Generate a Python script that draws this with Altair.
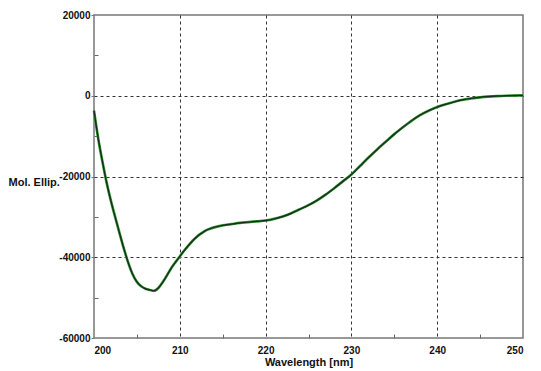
import altair as alt
import pandas as pd

wavelength = [200.0, 200.5, 201.0, 201.5, 202.0, 202.5, 203.0, 203.5, 204.0, 204.5,
              205.0, 205.5, 206.0, 206.5, 207.0, 207.5, 208.0, 208.5, 209.0, 209.5,
              210.0, 210.5, 211.0, 211.5, 212.0, 212.5, 213.0, 213.5, 214.0, 215.0,
              216.0, 217.0, 218.0, 219.0, 220.0, 221.0, 222.0, 223.0, 224.0, 225.0,
              226.0, 227.0, 228.0, 229.0, 230.0, 231.0, 232.0, 233.0, 234.0, 235.0,
              236.0, 237.0, 238.0, 239.0, 240.0, 241.0, 242.0, 243.0, 244.0, 245.0,
              246.0, 247.0, 248.0, 249.0, 250.0]
mol_ellip = [-3700, -10700, -16500, -21800, -26300, -30300, -34200, -38000, -41400, -44200,
             -46100, -47200, -47800, -48100, -48300, -47600, -46200, -44500, -42700, -41200,
             -39800, -38400, -37100, -35900, -34900, -34100, -33400, -32950, -32600, -32100,
             -31800, -31500, -31300, -31100, -30900, -30500, -29900, -29100, -28100, -27100,
             -25900, -24500, -22900, -21200, -19500, -17400, -15300, -13300, -11400, -9500,
             -7800, -6200, -4800, -3700, -2800, -2100, -1500, -1000, -650, -380,
             -200, -80, 0, 50, 100]

x_major = [200, 210, 220, 230, 240, 250]
x_minor = [205, 215, 225, 235, 245]
y_major = [-60000, -40000, -20000, 0, 20000]
y_minor = [-50000, -30000, -10000, 10000]

df = pd.DataFrame({"wl": wavelength, "me": mol_ellip})

xs = alt.Scale(domain=[200, 250], nice=False, zero=False)
ys = alt.Scale(domain=[-60000, 20000], nice=False, zero=False)

grid_x_op = {"condition": {"test": "datum.value == 200 || datum.value == 250", "value": 0}, "value": 1}
grid_y_op = {"condition": {"test": "datum.value == -60000 || datum.value == 20000", "value": 0}, "value": 1}

halo = alt.Chart(df).mark_line(color="#3c9a3c", strokeWidth=2.7, interpolate="monotone").encode(
    x=alt.X("wl:Q", scale=xs, axis=alt.Axis(
        orient="bottom", values=x_major, grid=True, gridDash=[3, 3], gridColor="#333333",
        gridOpacity=grid_x_op, ticks=False, domain=False, labelFontSize=10,
        labelFontWeight="bold", labelPadding=7, labelExpr="'' + datum.value",
        title="Wavelength [nm]", titleFontSize=11, titleFontWeight="bold",
        titleY=24, titleBaseline="middle")),
    y=alt.Y("me:Q", scale=ys, axis=alt.Axis(
        orient="left", values=y_major, grid=True, gridDash=[3, 3], gridColor="#333333",
        gridOpacity=grid_y_op, tickSize=3, tickColor="#777777", domain=False,
        labelFontSize=10, labelFontWeight="bold", labelPadding=1,
        labelExpr="'' + datum.value",
        title="Mol. Ellip.", titleAngle=0, titleAlign="left", titleX=-86, titleY=167,
        titleBaseline="middle", titleFontSize=11, titleFontWeight="bold")),
)

core = alt.Chart(df).mark_line(color="#15301a", strokeWidth=1.4, interpolate="monotone").encode(
    x=alt.X("wl:Q", scale=xs, axis=alt.Axis(
        orient="top", offset=-323, values=x_minor, ticks=True, tickSize=4,
        tickColor="#666666", labels=False, domain=False, grid=False, title=None)),
    y=alt.Y("me:Q", scale=ys, axis=alt.Axis(
        orient="right", offset=-429, values=y_minor, ticks=True, tickSize=4,
        tickColor="#666666", labels=False, domain=False, grid=False, title=None)),
)

chart = alt.layer(halo, core).properties(
    width=429, height=323,
    autosize="none",
    padding={"left": 86, "top": 7, "right": 10, "bottom": 33},
).configure_view(
    stroke="#777777", strokeWidth=1.5
).configure_axis(
    labelFont="Liberation Sans", titleFont="Liberation Sans",
    labelColor="#111111", titleColor="#111111"
)

chart.save("out.html", embed_options={"renderer": "svg", "actions": False})
